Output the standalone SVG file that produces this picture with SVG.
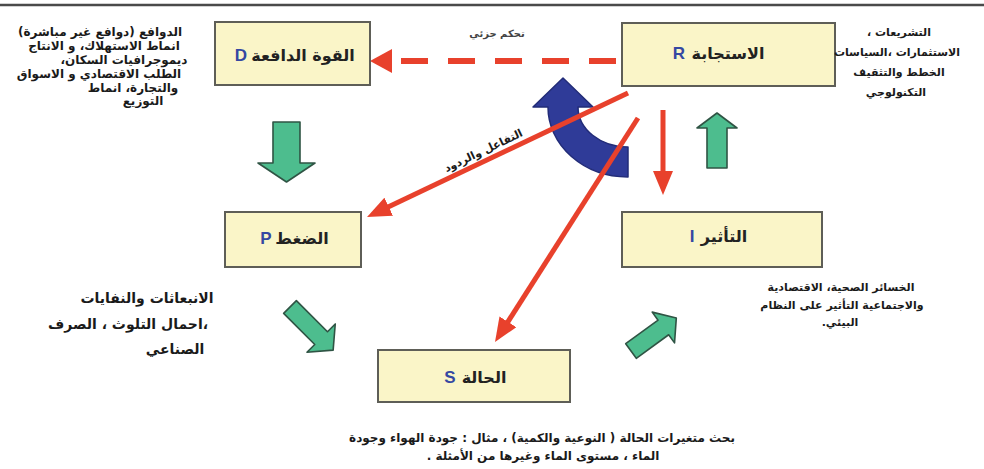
<svg xmlns="http://www.w3.org/2000/svg" width="984" height="469" viewBox="0 0 984 469">
<defs>
<style>
.box{fill:#FAF5C8;stroke:#5E5E57;stroke-width:2}
.lbl{font-family:"DejaVu Sans","Noto Sans",sans-serif;font-weight:bold;font-size:16px;fill:#222;direction:rtl;text-anchor:middle}
.ltr{font-family:"Liberation Sans",Arial,sans-serif;font-weight:bold;font-size:17px;fill:#3548A2;text-anchor:middle}
.desc{font-family:"DejaVu Sans","Noto Sans",sans-serif;font-weight:bold;font-size:12px;fill:#1a1a1a;direction:rtl;text-anchor:middle}
.small{font-family:"DejaVu Sans","Noto Sans",sans-serif;font-weight:bold;font-size:10px;fill:#444;direction:rtl;text-anchor:middle}
.red{stroke:#E8412C;stroke-width:5;fill:none}
.dash{stroke:#E8412C;stroke-width:6;fill:none;stroke-dasharray:27 20}
.green{fill:#4DBD8E;stroke:#2F5444;stroke-width:1.6;stroke-linejoin:round}
.blue{fill:#2F3B98;stroke:#222C78;stroke-width:1.5;stroke-linejoin:round}
</style>
<marker id="ah" markerUnits="userSpaceOnUse" markerWidth="24" markerHeight="20" refX="3" refY="10" orient="auto" viewBox="0 0 24 20"><path d="M0,0 L24,10 L0,20 Z" fill="#E8412C"/></marker>
<marker id="ahd" markerUnits="userSpaceOnUse" markerWidth="22" markerHeight="24" refX="2" refY="12" orient="auto" viewBox="0 0 22 24"><path d="M0,0 L22,12 L0,24 Z" fill="#E8412C"/></marker>
</defs>
<rect width="984" height="469" fill="#fff"/>
<line x1="0" y1="5" x2="984" y2="5" stroke="#4a4a4a" stroke-width="2.5"/>

<g id="connectors">
  <path class="blue" d="M533,107 L563,78 L593,107 L578,107 A50,40 0 0 0 628,147 L628,177 A80,70 0 0 1 548,107 Z"/>
  <line class="dash" x1="616" y1="61" x2="390" y2="61" marker-end="url(#ahd)"/>
  <line class="red" x1="628" y1="93" x2="386" y2="208" marker-end="url(#ah)"/>
  <line class="red" x1="638" y1="118" x2="506.3" y2="324.3" marker-end="url(#ah)"/>
  <line class="red" x1="663" y1="110" x2="663" y2="174" marker-end="url(#ah)"/>
  <path class="green" d="M273,122 H300 V163 H315 L286.5,182 L258,163 H273 Z"/>
  <path class="green" d="M707,168 V128 H697 L717,113 L737,128 H727 V168 Z"/>
  <path class="green" transform="translate(290,307) rotate(45)" d="M0,-9 H44 V-20 L61,0 L44,20 V9 H0 Z"/>
  <path class="green" transform="translate(631,351) rotate(-36)" d="M0,-9 H40 V-19 L56,0 L40,19 V9 H0 Z"/>
  <text class="small" x="497" y="37">تحكم جزئي</text>
  <text class="desc" style="font-size:11px" transform="translate(485,154) rotate(-25.4)">التفاعل والردود</text>
</g>

<g id="node-D">
  <rect class="box" x="215" y="22" width="155" height="63"/>
  <text class="lbl" x="303" y="61">القوة الدافعة</text>
  <text class="ltr" x="241" y="61">D</text>
</g>
<g id="node-R">
  <rect class="box" x="622" y="23" width="213" height="63"/>
  <text class="lbl" x="728" y="59">الاستجابة</text>
  <text class="ltr" x="679" y="59">R</text>
</g>
<g id="node-P">
  <rect class="box" x="225" y="212" width="136" height="55"/>
  <text class="lbl" x="302" y="244">الضغط</text>
  <text class="ltr" x="266" y="244">P</text>
</g>
<g id="node-I">
  <rect class="box" x="622" y="212" width="200" height="55"/>
  <text class="lbl" x="724" y="242">التأثير</text>
  <text class="ltr" x="692" y="242">I</text>
</g>
<g id="node-S">
  <rect class="box" x="378" y="350" width="192" height="52"/>
  <text class="lbl" x="484" y="383">الحالة</text>
  <text class="ltr" x="450" y="383">S</text>
</g>

<g id="desc-D">
  <text class="desc" x="100" y="36">الدوافع (دوافع غير مباشرة)</text>
  <text class="desc" x="104" y="50">انماط الاستهلاك، و الانتاج</text>
  <text class="desc" x="124" y="64">ديموجرافيات السكان،</text>
  <text class="desc" x="99" y="78">الطلب الاقتصادي و الاسواق</text>
  <text class="desc" x="133" y="92">والتجارة، انماط</text>
  <text class="desc" x="143" y="105">التوزيع</text>
</g>
<g id="desc-R">
  <text class="desc" style="font-size:11px" x="899" y="36">التشريعات ،</text>
  <text class="desc" style="font-size:11px" x="897" y="56">الاستثمارات ،السياسات</text>
  <text class="desc" style="font-size:11px" x="899" y="76">الخطط والتثقيف</text>
  <text class="desc" style="font-size:11px" x="896" y="96">التكنولوجي</text>
</g>
<g id="desc-P">
  <text class="desc" style="font-size:14px" x="147" y="303">الانبعاثات والنفايات</text>
  <text class="desc" style="font-size:14px" x="128" y="329">،احمال التلوث ، الصرف</text>
  <text class="desc" style="font-size:14px" x="175" y="354">الصناعي</text>
</g>
<g id="desc-I">
  <text class="desc" style="font-size:11px" x="841" y="291">الخسائر الصحية، الاقتصادية</text>
  <text class="desc" style="font-size:11px" x="842" y="309">والاجتماعية  التأثير على النظام</text>
  <text class="desc" style="font-size:11px" x="840" y="326">البيئي.</text>
</g>
<g id="desc-S">
  <text class="desc" x="542" y="442">بحث متغيرات الحالة ( النوعية والكمية) ، مثال : جودة الهواء وجودة</text>
  <text class="desc" x="543" y="460">الماء ، مستوى الماء وغيرها من الأمثلة .</text>
</g>
</svg>
